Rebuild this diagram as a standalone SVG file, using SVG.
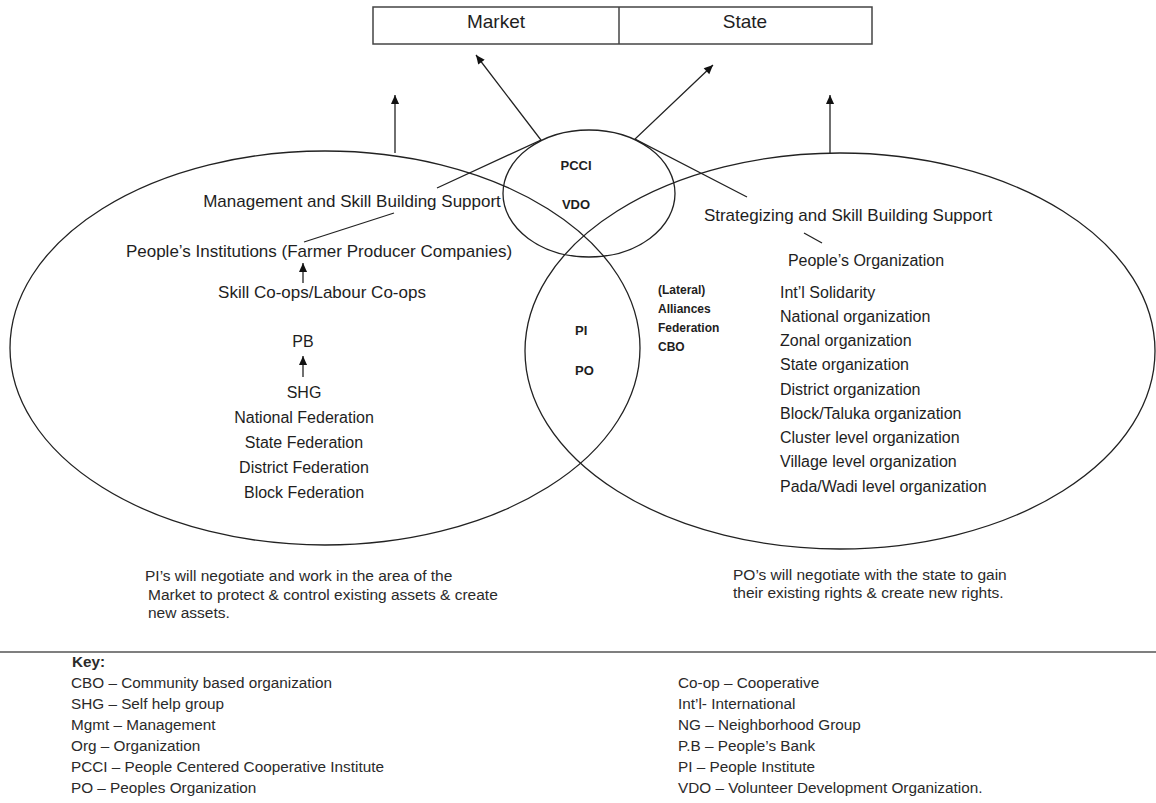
<svg xmlns="http://www.w3.org/2000/svg" width="1156" height="803" viewBox="0 0 1156 803">
<style>
text{font-family:"Liberation Sans",Arial,sans-serif;fill:#1e1e1e}
.h{font-size:17px}
.t{font-size:16px}
.b{font-size:12px;font-weight:bold}
.bb{font-size:13px;font-weight:bold}
.s{font-size:15.5px;fill:#2a2a2a}
.k{font-size:15.3px;fill:#2a2a2a}
.shape{fill:none;stroke:#222;stroke-width:1.3}
.ln{fill:none;stroke:#222;stroke-width:1.3}
.ar{fill:none;stroke:#222;stroke-width:1.3;marker-end:url(#ah)}
</style>
<defs>
<marker id="ah" viewBox="0 0 10 10" refX="10" refY="5" markerWidth="10" markerHeight="9" markerUnits="userSpaceOnUse" orient="auto">
<path d="M0,0.5 L10,5 L0,9.5 z" fill="#111"/>
</marker>
</defs>
<rect width="1156" height="803" fill="#fff"/>

<g id="top-box">
<rect x="373" y="7" width="499" height="37" fill="#fff" stroke="#444" stroke-width="1.5"/>
<line x1="619" y1="7" x2="619" y2="44" stroke="#444" stroke-width="1.5"/>
<text x="496" y="28" text-anchor="middle" style="font-size:19px">Market</text>
<text x="745" y="28" text-anchor="middle" style="font-size:19px">State</text>
</g>

<g id="left-ellipse">
<ellipse class="shape" cx="325" cy="348" rx="315" ry="197"/>
</g>
<g id="right-ellipse">
<ellipse class="shape" cx="840" cy="351" rx="315" ry="198"/>
</g>
<g id="pcci-ellipse">
<ellipse class="shape" cx="589" cy="193.5" rx="86" ry="63.5"/>
<text class="bb" x="576" y="170" text-anchor="middle">PCCI</text>
<text class="bb" x="576" y="209" text-anchor="middle">VDO</text>
</g>
<g id="overlap">
<text class="bb" x="575" y="335">PI</text>
<text class="bb" x="575" y="375">PO</text>
</g>
<g id="lateral">
<text class="b" x="658" y="294">(Lateral)</text>
<text class="b" x="658" y="313">Alliances</text>
<text class="b" x="658" y="332">Federation</text>
<text class="b" x="658" y="351">CBO</text>
</g>

<g id="left-content">
<text class="h" x="352" y="207" text-anchor="middle">Management and Skill Building Support</text>
<text class="h" x="319" y="257" text-anchor="middle">People’s Institutions (Farmer Producer Companies)</text>
<text class="h" x="322" y="298" text-anchor="middle">Skill Co-ops/Labour Co-ops</text>
<text class="t" x="303" y="347" text-anchor="middle">PB</text>
<text class="t" x="304" y="398" text-anchor="middle">SHG</text>
<text class="t" x="304" y="423" text-anchor="middle">National Federation</text>
<text class="t" x="304" y="448" text-anchor="middle">State Federation</text>
<text class="t" x="304" y="473" text-anchor="middle">District Federation</text>
<text class="t" x="304" y="498" text-anchor="middle">Block Federation</text>
</g>

<g id="right-content">
<text class="h" x="848" y="221" text-anchor="middle">Strategizing and Skill Building Support</text>
<text class="t" x="866" y="266" text-anchor="middle">People’s Organization</text>
<text class="t" x="780" y="298">Int’l Solidarity</text>
<text class="t" x="780" y="322">National organization</text>
<text class="t" x="780" y="346">Zonal organization</text>
<text class="t" x="780" y="370">State organization</text>
<text class="t" x="780" y="395">District organization</text>
<text class="t" x="780" y="419">Block/Taluka organization</text>
<text class="t" x="780" y="443">Cluster level organization</text>
<text class="t" x="780" y="467">Village level organization</text>
<text class="t" x="780" y="492">Pada/Wadi level organization</text>
</g>

<g id="connectors">
<line class="ar" x1="395" y1="153" x2="395" y2="95"/>
<line class="ar" x1="830" y1="154" x2="830" y2="95"/>
<polyline class="ar" points="437,188 541,140 476,55"/>
<polyline class="ar" points="747,197 635,139 713,65"/>
<line class="ln" x1="394" y1="213" x2="304" y2="242"/>
<line class="ar" x1="303" y1="283" x2="303" y2="263"/>
<line class="ar" x1="303" y1="377" x2="303" y2="356"/>
<line class="ln" x1="804" y1="233" x2="822" y2="243"/>
</g>

<g id="notes">
<text class="s" x="145" y="581">PI’s will negotiate and work in the area of the</text>
<text class="s" x="148" y="600">Market to protect &amp; control existing assets &amp; create</text>
<text class="s" x="148" y="618">new assets.</text>
<text class="s" x="733" y="580">PO’s will negotiate with the state to gain</text>
<text class="s" x="733" y="598">their existing rights &amp; create new rights.</text>
</g>

<line x1="0" y1="652" x2="1156" y2="652" stroke="#555" stroke-width="1.5"/>

<g id="key">
<text class="k" x="72" y="667" style="font-weight:bold">Key:</text>
<text class="k" x="71" y="688">CBO – Community based organization</text>
<text class="k" x="71" y="709">SHG – Self help group</text>
<text class="k" x="71" y="730">Mgmt – Management</text>
<text class="k" x="71" y="751">Org – Organization</text>
<text class="k" x="71" y="772">PCCI – People Centered Cooperative Institute</text>
<text class="k" x="71" y="793">PO – Peoples Organization</text>
<text class="k" x="678" y="688">Co-op – Cooperative</text>
<text class="k" x="678" y="709">Int’l- International</text>
<text class="k" x="678" y="730">NG – Neighborhood Group</text>
<text class="k" x="678" y="751">P.B – People’s Bank</text>
<text class="k" x="678" y="772">PI – People Institute</text>
<text class="k" x="678" y="793">VDO – Volunteer Development Organization.</text>
</g>
</svg>
